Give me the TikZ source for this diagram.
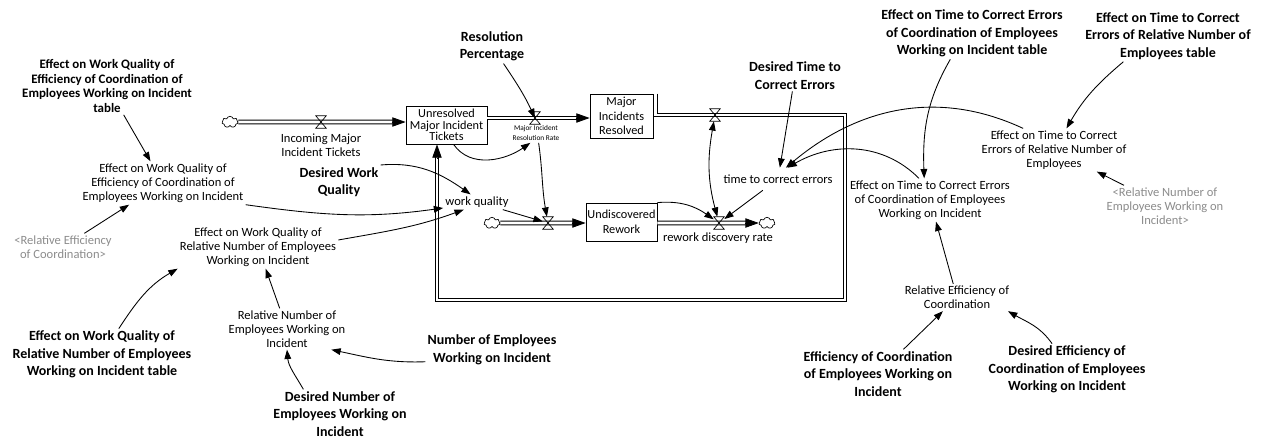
\documentclass[tikz,border=0pt]{standalone}
\usepackage{fontspec}
\setmainfont{Carlito}
\usetikzlibrary{arrows.meta,shapes.symbols,calc}
\definecolor{shadowgray}{RGB}{140,140,140}
\newcommand\drawvalve[1]{\draw[valvedraw] (#1.north west) -- (#1.north east) -- (#1.south west) -- (#1.south east) -- cycle;}
\begin{document}
\begin{tikzpicture}[x=0.75pt,y=0.75pt,
  auxv/.style={font=\fontsize{9.4}{10.5}\selectfont, align=center, inner sep=1.5pt},
  constv/.style={font=\bfseries\fontsize{10.5}{13.1}\selectfont, align=center, inner sep=1.5pt},
  shadowv/.style={auxv, text=shadowgray},
  tinylab/.style={font=\fontsize{5.5}{7.5}\selectfont, align=center, inner sep=1.5pt},
  stockbox/.style={draw, line width=0.6pt, align=center, inner sep=0pt},
  flowpipe/.style={draw, double=white, double distance=2.2pt, line width=0.6pt},
  pipetip/.style={-{Triangle[length=10pt,width=7pt]}, line width=0.6pt},
  infolink/.style={-{Triangle[length=7pt,width=5pt]}, line width=0.65pt},
  valvebox/.style={minimum width=7.5pt, minimum height=9pt, inner sep=0pt},
  valvedraw/.style={draw, line width=0.5pt},
  cloudn/.style={cloud, draw, cloud puffs=7, aspect=1.5, minimum width=12pt, minimum height=8.5pt, inner sep=0pt, fill=white, line width=0.5pt}
]
\useasboundingbox[fill=white] (0,0) rectangle (1261,-440);

% stocks
\node[stockbox, minimum width=60.75pt, minimum height=28.5pt, font=\fontsize{9.2}{8.6}\selectfont] (unres) at (446.5,-125) {Unresolved\\Major Incident\\Tickets};
\node[stockbox, minimum width=47.25pt, minimum height=33pt, font=\fontsize{9.2}{10.9}\selectfont] (mir) at (621.5,-116) {Major\\Incidents\\Resolved};
\node[stockbox, minimum width=53.25pt, minimum height=28.5pt, font=\fontsize{9.2}{11.2}\selectfont] (undisc) at (621.5,-222) {Undiscovered\\Rework};

% valves
\node[valvebox] (vin) at (321,-122) {};
\node[valvebox] (vres) at (535,-118) {};
\node[valvebox] (vlow) at (548,-223) {};
\node[valvebox] (vdisc) at (719,-223) {};
\node[valvebox] (vloop) at (715,-115) {};

% clouds
\node[cloudn] (c1) at (230,-122) {};
\node[cloudn] (c2) at (492,-223) {};
\node[cloudn] (c3) at (767,-223) {};

% pipes
\draw[flowpipe] (c1) -- ($(unres.west |- c1)+(-13,0)$);
\draw[pipetip] ($(unres.west |- c1)+(-14,0)$) -- (unres.west |- c1);
\draw[flowpipe] (unres.east |- vres) -- ($(mir.west |- vres)+(-13,0)$);
\draw[pipetip] ($(mir.west |- vres)+(-14,0)$) -- (mir.west |- vres);
\draw[flowpipe] (c2) -- ($(undisc.west |- c2)+(-13,0)$);
\draw[pipetip] ($(undisc.west |- c2)+(-14,0)$) -- (undisc.west |- c2);
\draw[flowpipe] (undisc.east |- vdisc) -- ($(c3.west)+(-13,0)$);
\draw[pipetip] ($(c3.west)+(-14,0)$) -- (c3.west);
\coordinate (lp1) at (845,-115);
\coordinate (lp2) at (845,-300);
\coordinate (lp3) at (437,-300);
\draw[flowpipe] ([xshift=1.5pt]mir.north east) |- (lp1) -- (lp2) -- (lp3) -- ($(unres.south -| lp3)+(0,-13)$);
\draw[pipetip] ($(unres.south -| lp3)+(0,-14)$) -- (unres.south -| lp3);

\drawvalve{vin}
\drawvalve{vres}
\drawvalve{vlow}
\drawvalve{vdisc}
\drawvalve{vloop}

% flow labels
\node[auxv] (inlab) at (321,-145) {Incoming Major\\Incident Tickets};
\node[tinylab] (vreslab) at (536,-133) {Major Incident\\Resolution Rate};
\node[auxv] (rdrlab) at (718,-238) {rework discovery rate};

% auxiliaries
\node[auxv] (wq) at (477,-202) {work quality};
\node[auxv, inner ysep=5pt] (tce) at (778,-179) {time to correct errors};
\node[auxv] (ewqe) at (163,-183) {Effect on Work Quality of\\Efficiency of Coordination of\\Employees Working on Incident};
\node[auxv] (ewqr) at (258,-247) {Effect on Work Quality of\\Relative Number of Employees\\Working on Incident};
\node[auxv] (rne) at (287,-329) {Relative Number of\\Employees Working on\\Incident};
\node[auxv] (etcc) at (930,-200) {Effect on Time to Correct Errors\\of Coordination of Employees\\Working on Incident};
\node[auxv] (etcr) at (1054,-150) {Effect on Time to Correct\\Errors of Relative Number of\\Employees};
\node[auxv] (rec) at (957,-297.5) {Relative Efficiency of\\Coordination};
\node[shadowv] (srec) at (63,-247) {<Relative Efficiency\\of Coordination>};
\node[shadowv] (srne) at (1165,-206) {<Relative Number of\\Employees Working on\\Incident>};

% constants
\node[constv, font=\bfseries\fontsize{9.7}{11}\selectfont] (ewqet) at (107,-86) {Effect on Work Quality of\\Efficiency of Coordination of\\Employees Working on Incident\\table};
\node[constv] (dwq) at (339,-182) {Desired Work\\Quality};
\node[constv] (ewqrt) at (102,-354.5) {Effect on Work Quality of\\Relative Number of Employees\\Working on Incident table};
\node[constv] (dne) at (340,-414) {Desired Number of\\Employees Working on\\Incident};
\node[constv] (noe) at (492,-350) {Number of Employees\\Working on Incident};
\node[constv] (rp) at (492,-46.5) {Resolution\\Percentage};
\node[constv] (dtce) at (795,-75.5) {Desired Time to\\Correct Errors};
\node[constv] (etcct) at (972,-33.5) {Effect on Time to Correct Errors\\of Coordination of Employees\\Working on Incident table};
\node[constv] (etcrt) at (1168,-36) {Effect on Time to Correct\\Errors of Relative Number of\\Employees table};
\node[constv] (ecoe) at (878,-374) {Efficiency of Coordination\\of Employees Working on\\Incident};
\node[constv] (deco) at (1067,-369.5) {Desired Efficiency of\\Coordination of Employees\\Working on Incident};

% information links
\draw[infolink] (rp.-56) to[out=-56,in=115] (vres.center);
\draw[infolink] (unres.-70) to[out=-55,in=-145] (vreslab.-120);
\draw[infolink] (vreslab.-75) to[out=-82,in=100] (vlow);
\draw[infolink] (wq) -- (vlow);
\draw[infolink] (dwq.north east) to[out=5,in=145] (wq.130);
\draw[infolink] (ewqe.south east) to[out=-8,in=188] (wq.190);
\draw[infolink] (ewqr.5) to[out=10,in=200] (wq.-150);
\draw[infolink] (ewqet) -- (ewqe);
\draw[infolink] (srec) -- (ewqe);
\draw[infolink] (ewqrt.57) to[out=57,in=210] (ewqr.south west);
\draw[infolink] (rne) -- (ewqr);
\draw[infolink] (noe.-170) to[out=182,in=-12] (rne.-25);
\draw[infolink] (dne.146) to[out=120,in=-85] (rne.south);
\draw[infolink] (etcct.-130) to[out=-120,in=92] (etcc.105);
\draw[infolink] (etcrt.-150) to[out=-140,in=60] (etcr.60);
\draw[infolink] (srne) -- (etcr);
\draw[infolink] (rec) -- (etcc);
\draw[infolink] (ecoe) -- (rec);
\draw[infolink] (deco.120) to[out=125,in=-30] (rec.-15);
\draw[infolink] (etcr.145) to[out=155,in=40] (tce.55);
\draw[infolink] (etcc.117) to[out=135,in=30] (tce.50);
\draw[infolink] (dtce) -- (tce);
\draw[infolink] (tce) -- (vdisc);
\draw[infolink] (undisc.north east) to[out=5,in=145] (vdisc);
\draw[infolink, {Triangle[length=7pt,width=5pt]}-{Triangle[length=7pt,width=5pt]}] (vloop) to[out=-100,in=105] (vdisc);
\end{tikzpicture}
\end{document}
